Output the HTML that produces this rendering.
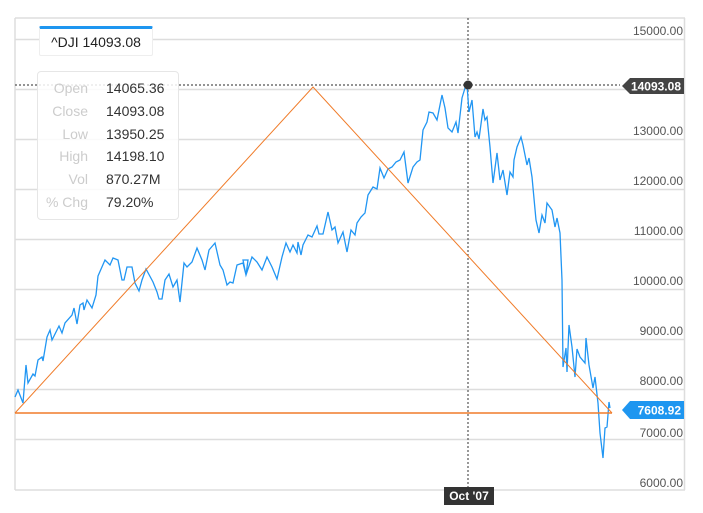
<!DOCTYPE html>
<html><head><meta charset="utf-8"><style>
body{margin:0;background:#fff;width:703px;height:513px;overflow:hidden;font-family:"Liberation Sans",sans-serif}
svg{position:absolute;left:0;top:0}
.t{position:absolute;font-size:14px}
</style></head><body>
<svg width="703" height="513">
<g stroke="#ddd" stroke-width="1.5">
<line x1="15" y1="18" x2="685" y2="18"/>
<line x1="15" y1="39.5" x2="685" y2="39.5"/>
<line x1="15" y1="89.5" x2="685" y2="89.5"/>
<line x1="15" y1="139.5" x2="685" y2="139.5"/>
<line x1="15" y1="189.5" x2="685" y2="189.5"/>
<line x1="15" y1="239.5" x2="685" y2="239.5"/>
<line x1="15" y1="289.5" x2="685" y2="289.5"/>
<line x1="15" y1="339.5" x2="685" y2="339.5"/>
<line x1="15" y1="389.5" x2="685" y2="389.5"/>
<line x1="15" y1="439.5" x2="685" y2="439.5"/>
<line x1="15" y1="490" x2="685" y2="490"/>
<line x1="15" y1="18" x2="15" y2="490"/>
<line x1="684.5" y1="18" x2="684.5" y2="490"/>
</g>
<g font-size="12" fill="#555" text-anchor="end" font-family="Liberation Sans">
<text x="683" y="35">15000.00</text>
<text x="683" y="135">13000.00</text>
<text x="683" y="185">12000.00</text>
<text x="683" y="235">11000.00</text>
<text x="683" y="285">10000.00</text>
<text x="683" y="335">9000.00</text>
<text x="683" y="385">8000.00</text>
<text x="683" y="437">7000.00</text>
<text x="683" y="487">6000.00</text>
</g>
<g stroke="#555" stroke-width="1.2" stroke-dasharray="2,2">
<line x1="468" y1="18" x2="468" y2="490"/>
<line x1="15" y1="85" x2="620" y2="85"/>
</g>
<polyline fill="none" stroke="#2196f3" stroke-width="1.3" points="15,397 18,390 23,403 26,365 28,383 33,374 35,376 38,360 42,357 43,361 47,337 50,330 52,340 59,326 62,333 65,323 72,315 74,308 77,324 80,305 83,303 84,310 87,300 92,308 96,295 98,276 105,260 110,265 113,258 118,260 122,280 124,280 127,267 132,267 135,283 139,291 142,280 146,269 153,282 157,292 159,299 162,299 165,280 169,274 173,287 177,280 180,302 184,263 187,267 192,262 197,248 202,260 205,270 209,250 215,243 220,265 223,270 227,285 230,282 233,283 237,265 243,263 246,275 248,260 243,260 246,275 252,257 257,262 262,270 267,257 272,267 277,279 282,257 286,243 290,252 293,245 297,253 298,242 301,255 303,245 308,235 312,237 317,226 319,234 323,234 328,212 332,230 335,227 338,243 343,232 347,252 351,230 355,235 357,223 361,217 365,213 368,195 373,187 377,189 380,168 384,178 388,169 392,167 396,162 400,160 404,152 408,183 413,167 417,162 420,160 423,130 427,122 429,112 433,113 437,120 442,95 445,108 448,128 452,132 456,122 458,133 462,98 465,88 467,85 469,112 472,100 475,137 477,132 479,139 483,109 485,120 487,117 490,147 493,183 497,153 500,180 503,170 507,195 510,172 513,177 514,160 517,147 521,137 523,145 527,165 529,158 532,177 536,220 539,233 542,215 545,223 547,203 552,210 555,227 557,218 560,233 562,280 563,367 566,348 567,372 569,325 572,347 575,377 577,349 580,357 585,363 586,338 589,365 593,388 595,377 598,403 600,433 603,458 605,428 607,427 609,402 610,408"/>
<g stroke="#f07c2a" stroke-width="1" fill="none">
<polyline points="15,413 313,87 612,413"/>
<line x1="15" y1="413" x2="612" y2="413" stroke-width="1.5"/>
</g>
<circle cx="468" cy="85" r="4.5" fill="#333"/>
<path d="M622,86 L630,78 L684,78 L684,94 L630,94 Z" fill="#444"/>
<text x="681" y="90.5" font-size="12" font-weight="bold" fill="#fff" text-anchor="end" font-family="Liberation Sans">14093.08</text>
<path d="M622,410 L630,401 L684,401 L684,419 L630,419 Z" fill="#1e96f0"/>
<text x="681" y="414.5" font-size="12" font-weight="bold" fill="#fff" text-anchor="end" font-family="Liberation Sans">7608.92</text>
<rect x="444" y="487" width="50" height="18" fill="#333"/>
<text x="469" y="500" font-size="12" font-weight="bold" fill="#fff" text-anchor="middle" font-family="Liberation Sans">Oct '07</text>
</svg>
<div style="position:absolute;left:39px;top:26px;width:114px;height:30px;background:#fff;border:1px solid #eee;border-top:3px solid #1e96f0;border-radius:2px;box-sizing:border-box;font-size:14px;color:#222;text-align:center;line-height:27px">^DJI 14093.08</div>
<div style="position:absolute;left:37px;top:71px;width:142px;height:149px;background:rgba(255,255,255,0.85);border:1px solid #e6e6e6;border-radius:4px;box-sizing:border-box"></div>
<div class="t" style="left:37px;top:77px;width:51px;text-align:right;color:#ccc;line-height:22.8px">Open<br>Close<br>Low<br>High<br>Vol<br>% Chg</div>
<div class="t" style="left:106px;top:77px;color:#333;line-height:22.8px">14065.36<br>14093.08<br>13950.25<br>14198.10<br>870.27M<br>79.20%</div>
</body></html>
